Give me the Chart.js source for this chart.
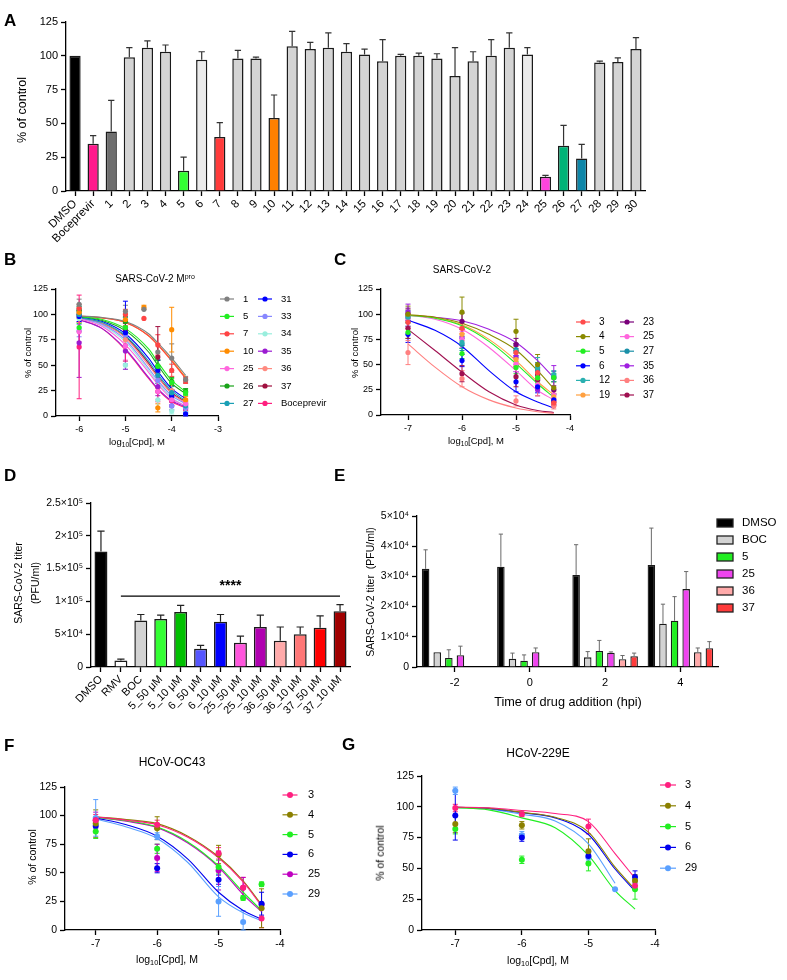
<!DOCTYPE html>
<html>
<head>
<meta charset="utf-8">
<title>Figure</title>
<script src="https://cdn.jsdelivr.net/npm/chart.js@4.4.1/dist/chart.umd.min.js"></script>
<style>
  html, body { margin: 0; padding: 0; background: #fff; }
  body { width: 787px; height: 980px; position: relative; overflow: hidden; font-family: "Liberation Sans", Arial, sans-serif; color: #000; }
  canvas { position: absolute; left: 0; top: 0; }
  .t { position: absolute; white-space: nowrap; transform: translate(-50%, -50%); line-height: 1; }
  .r { transform: translate(-50%, -50%) rotate(-90deg); }
  .p { position: absolute; font-weight: bold; font-size: 17px; line-height: 1; }
  sub { font-size: 70%; vertical-align: -0.3em; line-height: 0; }
  sup { font-size: 70%; vertical-align: 0.5em; line-height: 0; }
</style>
</head>
<body>
<canvas id="cA" width="787" height="980"></canvas>
<canvas id="cB" width="787" height="980"></canvas>
<canvas id="cC" width="787" height="980"></canvas>
<canvas id="cD" width="787" height="980"></canvas>
<canvas id="cE" width="787" height="980"></canvas>
<canvas id="cF" width="787" height="980"></canvas>
<canvas id="cG" width="787" height="980"></canvas>

<div class="p" style="left:4px;top:12px">A</div>
<div class="p" style="left:4px;top:251px">B</div>
<div class="p" style="left:334px;top:251px">C</div>
<div class="p" style="left:4px;top:467px">D</div>
<div class="p" style="left:334px;top:467px">E</div>
<div class="p" style="left:4px;top:737px">F</div>
<div class="p" style="left:342px;top:736px">G</div>

<div class="t r" style="left:22px;top:110px;font-size:12.5px">% of control</div>

<div class="t" style="left:155px;top:279px;font-size:10px">SARS-CoV-2 M<sup>pro</sup></div>
<div class="t r" style="left:28px;top:353px;font-size:9.5px">% of control</div>
<div class="t" style="left:137px;top:442px;font-size:9.5px">log<sub>10</sub>[Cpd], M</div>

<div class="t" style="left:462px;top:270px;font-size:10px">SARS-CoV-2</div>
<div class="t r" style="left:355px;top:353px;font-size:9.5px">% of control</div>
<div class="t" style="left:476px;top:441px;font-size:9.5px">log<sub>10</sub>[Cpd], M</div>

<div class="t r" style="left:27px;top:583px;font-size:10.5px;line-height:1.6;text-align:center">SARS-CoV-2 titer<br>(PFU/ml)</div>

<div class="t r" style="left:370px;top:592px;font-size:10.5px">SARS-CoV-2 titer&nbsp;&nbsp;(PFU/ml)</div>
<div class="t" style="left:568px;top:702px;font-size:12.7px">Time of drug addition (hpi)</div>

<div class="t" style="left:172px;top:762px;font-size:12px">HCoV-OC43</div>
<div class="t r" style="left:32px;top:857px;font-size:10.5px">% of control</div>
<div class="t" style="left:167px;top:959px;font-size:10.5px">log<sub>10</sub>[Cpd], M</div>

<div class="t" style="left:538px;top:753px;font-size:12px">HCoV-229E</div>
<div class="t r" style="left:380px;top:853px;font-size:10.5px">% of control</div>
<div class="t" style="left:538px;top:960px;font-size:10.5px">log<sub>10</sub>[Cpd], M</div>

<script>
const FONT = '"Liberation Sans", Arial, Helvetica, sans-serif';
Chart.defaults.font.family = FONT;
Chart.defaults.color = '#000';
Chart.defaults.animation = false;
Chart.defaults.events = [];
Chart.defaults.plugins.legend.display = false;
Chart.defaults.plugins.tooltip.enabled = false;

// ---------- A: single-dose screen (% of control)
const catsA = ['DMSO','Boceprevir','1','2','3','4','5','6','7','8','9','10','11','12','13','14','15','16','17','18','19','20','21','22','23','24','25','26','27','28','29','30'];
const valsA = [100,35,44,99,106,103,15,97,40,98,98,54,107,105,106,103,101,96,100,100,98,85,96,100,106,101,10.5,33.5,24,95,95.5,105];
const errA  = [100,41,67,106,111,108,25,103,50.5,104,99,71,118,110,117,109,105,112,101,102,101.5,106,103,112,117,106,11.5,48.5,34.5,96,98.5,113.5];

// ---------- B: SARS-CoV-2 Mpro dose-response
const namesB = ['1','5','7','10','25','26','27','31','33','34','35','36','37','Boceprevir'];
const doseB = [-6, -5, -4.6, -4.3, -4, -3.7];
const ptsB = [
  [110,103,105,63,57,36],
  [87,87,null,49,33,23],
  [106,100,96,70,45,35],
  [102,95,107,8,85,16],
  [83,69,null,24,16,12],
  [104,93,null,49,34,24],
  [100,87,null,40,23,10],
  [98,82,null,45,20,2],
  [84,80,null,35,10,8],
  [96,50,null,16,5,3],
  [72,64,null,29,10,8],
  [98,75,null,35,25,14],
  [100,85,null,58,20,12],
  [68,69,null,24,15,7]
];
const errB = [
  [5,6,0,8,14,3],[4,5,0,6,4,3],[4,5,0,10,6,3],[5,6,2,4,22,3],[10,14,0,8,5,3],
  [4,5,0,6,4,3],[8,10,0,8,6,4],[5,31,0,10,6,2],[6,6,0,8,4,3],[10,4,0,8,3,2],
  [34,18,0,9,4,3],[6,10,0,8,6,3],[4,6,0,30,6,3],[51,15,0,10,5,3]
];
const fitXB = [-6, -5.5, -5, -4.5, -4.3, -4, -3.7];
const fitB = [
  [98.5,97,93,81,72,57,40],
  [98,95,86,66,53,35,24],
  [98.5,96.5,92,79,70,54,37],
  [98.5,96.5,92,79,70,55,38],
  [96,88,70,43,31,17,10],
  [98,94,84,63,50,32,22],
  [97,92,79,54,41,25,15],
  [97.5,93,81,57,44,27,17],
  [96.5,90,75,47,35,20,12],
  [96,89,73,45,33,18,10],
  [95,86,66,38,27,15,9],
  [97,91,77,50,38,22,13],
  [97,91,78,52,39,23,14],
  [95,86,65,37,26,14,8]
];

// ---------- C: SARS-CoV-2 antiviral dose-response
const namesC = ['3','4','5','6','12','19','23','25','27','35','36','37'];
const doseC = [-7, -6, -5, -4.6, -4.3];
const ptsC = [
  [92,86,62,42,12],
  [100,102,83,50,27],
  [82,61,47,37,37],
  [80,54,33,28,15],
  [97,72,63,47,40],
  [99,80,55,37,18],
  [100,93,70,40,25],
  [96,75,51,30,20],
  [98,70,65,44,38],
  [102,77,58,25,37],
  [62,36,14,27,9],
  [86,41,38,35,13]
];
const errC = [
  [6,5,6,5,3],[8,15,12,10,6],[6,5,6,5,4],[8,6,10,6,5],[6,6,6,10,4],[6,6,6,8,5],
  [6,8,6,6,4],[8,8,8,6,5],[6,6,6,8,5],[8,8,8,6,12],[12,8,5,8,3],[10,8,10,8,3]
];
const fitXC = [-7, -6.5, -6, -5.5, -5, -4.6, -4.3];
const fitC = [
  null,
  [99.5,97,91,80,64.5,44,26],
  [99,96,88.5,73,51,31,17.5],
  [94,84,68,44,23,13,7],
  null,
  [99.5,96.5,89.5,75,54,33,20],
  null,
  [99,95,85,67,44,24.5,15],
  null,
  [99,97,93.5,85,72,54,37],
  [70.5,47.5,28,15,7,3.3,1.6],
  [85,64,42.5,23,10,4.5,2.5]
];

// ---------- D: titer reduction
const catsD = ['DMSO','RMV','BOC','5_50 μM','5_10 μM','6_50 μM','6_10 μM','25_50 μM','25_10 μM','36_50 μM','36_10 μM','37_50 μM','37_10 μM'];
const valsD = [176000,10000,71000,73000,84000,28000,69000,37000,61000,40000,50000,60000,85000];
const errD  = [207000,12000,80000,79000,94000,33000,80000,47000,79000,61000,61000,78000,95000];
const ticksD = ['0','5×10⁴','1×10⁵','1.5×10⁵','2×10⁵','2.5×10⁵'];
const sigD = { from: 'RMV', to: '37_10 μM', y: 108000, text: '****' };

// ---------- E: time of addition
const groupsE = ['-2','0','2','4'];
const seriesE = ['DMSO','BOC','5','25','36','37'];
const valsE = [
  [32500,33200,30500,33800],
  [4900,2700,3200,14300],
  [3000,2100,5300,15300],
  [3900,4900,4700,25800],
  [150,0,2600,4900],
  [150,0,3600,6200]
];
const errE = [
  [38800,44000,40500,46000],
  [4900,4600,5100,20800],
  [5700,4000,8800,23300],
  [6900,6300,5000,31600],
  [150,0,3800,6300],
  [150,0,4600,8400]
];
const ticksE = ['0','1×10⁴','2×10⁴','3×10⁴','4×10⁴','5×10⁴'];

// ---------- F: HCoV-OC43
const namesF = ['3','4','5','6','25','29'];
const doseF = [-7, -6, -5, -4.6, -4.3];
const ptsF = [
  [96,92,67,37,10],
  [93,89,66,null,19],
  [86,71,55,28,40],
  [91,54,44,null,23],
  [96,63,52,37,22],
  [98,82,25,7,null]
];
const errF = [[5,4,5,9,8],[12,10,8,0,17],[6,4,6,2,2],[5,4,4,0,10],[7,12,17,9,0],[16,3,13,10,0]];
const fitXF = [-7, -6.5, -6, -5.5, -5, -4.6, -4.3];
const fitF = [
  [99,96,92,81,63,42,21],
  [99,96.5,93,82,64,43,22],
  [98.5,95.5,90,77,56,33,17],
  [98,92,82,62,33,17,9.5],
  [98.5,95,89.5,76,55,31,16],
  [97,90,80,59,29,15,8]
];

// ---------- G: HCoV-229E
const namesG = ['3','4','5','6','29'];
const doseG = [-7, -6, -5, -4.6, -4.3];
const ptsG = [
  [99,94,84,null,36],
  [86,85,64,null,40],
  [82,57,54,null,33],
  [93,75,60,null,43],
  [113,77,59,33,null]
];
const errG = [[3,2,6,0,3],[7,3,10,0,5],[4,3,6,0,8],[20,3,2,0,5],[3,3,3,0,0]];
const fitXG = [-7, -6.5, -6, -5.5, -5, -4.6, -4.3];
const fitG = [
  [99.8,99.2,97,94.5,88,62,42],
  [99.6,98.8,95.5,91.5,79.5,51,33],
  [99.2,97.5,91,83,60.5,32,17],
  [99.6,98.7,95.2,91,77.5,49.5,31.5],
  [99.5,98.3,94,88.5,70,38,null]
];

const doseTicks = [-7, -6, -5, -4];
const doseTicksB = [-6, -5, -4, -3];

// ---------- colours
const greyA = '#d4d4d4';
const colA = catsA.map(c => ({DMSO:'#000000', Boceprevir:'#ff1a8c', '1':'#6e6e6e', '5':'#33ff33', '6':'#ebebeb',
  '7':'#ff3b3b', '10':'#ff8000', '24':'#ebebeb', '25':'#ff44dd', '26':'#00b377', '27':'#0e86a8'})[c] || greyA);
const colB = ['#808080','#22ee22','#ff4444','#ff8c00','#ff66dd','#1aa31a','#1a9fb5','#0000ff','#8888ff','#99eedd','#9b1bd1','#ff8a80','#a0103f','#ff1f7f'];
const colC = ['#ff4b4b','#8a8a00','#22ee22','#0000ff','#2ab0b0','#ffa040','#7a007a','#ff66dd','#1a90a8','#a020e0','#ff8080','#a01050'];
const colD = ['#000000','#ffffff','#d3d3d3','#33ff33','#00c000','#5555ff','#0000ff','#ff55dd','#b000b0','#ffaaaa','#ff7777','#ff0000','#a00000'];
const colE = ['#000000','#d3d3d3','#22ee22','#ee44ee','#ffaaaa','#ff3b3b'];
const colF = ['#ff1f7f','#8b8000','#22ee22','#0000ee','#c000c0','#5aa0ff'];
const colG = ['#ff1f7f','#8b8000','#22ee22','#0000ee','#5aa0ff'];

// ---------- helpers
function ax(size, ticks, rest) {
  return Object.assign({
    border: { color: '#000', width: 1.3 },
    grid: { drawOnChartArea: false, drawTicks: true, tickLength: 5, tickWidth: 1.3, color: '#000', tickColor: '#000', offset: false },
    ticks: Object.assign({ color: '#000', font: { size: size, family: FONT }, padding: 3 }, ticks)
  }, rest);
}

// page-space chart area: left, top, right, bottom plus axis box sizes
function pad(L, T, R, B, yW, xH) {
  return { left: L - yW, top: T, right: 787 - R, bottom: 980 - B - xH };
}

function drawErr(chart, bars) {
  const ctx = chart.ctx, ys = chart.scales.y;
  chart.data.datasets.forEach((ds, di) => {
    const meta = chart.getDatasetMeta(di);
    if (bars && ds.errHi) {
      meta.data.forEach((el, i) => {
        const hi = ds.errHi[i], v = ds.data[i];
        if (hi == null || v == null || hi <= v) return;
        const yTop = ys.getPixelForValue(hi);
        const cw = el.width * 0.28;
        ctx.save();
        ctx.strokeStyle = ds.errColor || '#222';
        ctx.lineWidth = ds.errWidth || 1.2;
        ctx.beginPath();
        ctx.moveTo(el.x, el.y); ctx.lineTo(el.x, yTop);
        ctx.moveTo(el.x - cw, yTop); ctx.lineTo(el.x + cw, yTop);
        ctx.stroke();
        ctx.restore();
      });
    }
    if (!bars && ds.err) {
      meta.data.forEach((el, i) => {
        const e = ds.err[i];
        if (!e) return;
        const d = ds.data[i];
        const y1 = ys.getPixelForValue(d.y + e), y2 = ys.getPixelForValue(Math.max(d.y - e, 0));
        ctx.save();
        ctx.strokeStyle = ds.borderColor;
        ctx.lineWidth = 1;
        ctx.beginPath();
        ctx.moveTo(el.x, y1); ctx.lineTo(el.x, y2);
        ctx.moveTo(el.x - 2.5, y1); ctx.lineTo(el.x + 2.5, y1);
        ctx.moveTo(el.x - 2.5, y2); ctx.lineTo(el.x + 2.5, y2);
        ctx.stroke();
        ctx.restore();
      });
    }
  });
}

const errPlugin = {
  id: 'errs',
  beforeDatasetsDraw(chart) { drawErr(chart, false); },
  afterDatasetsDraw(chart) { drawErr(chart, true); }
};

function keyPlugin(k) {
  return {
    id: 'keys',
    afterDraw(chart) {
      const ctx = chart.ctx;
      ctx.save();
      ctx.font = k.size + 'px ' + FONT;
      ctx.textBaseline = 'middle';
      ctx.textAlign = 'left';
      k.names.forEach((n, i) => {
        const col = Math.floor(i / k.rows), row = i % k.rows;
        const x = k.x + col * k.colDx, y = k.y + row * k.dy;
        const c = k.colors[i];
        if (k.box) {
          ctx.fillStyle = c;
          ctx.fillRect(x - 8, y - 4, 16, 8);
          ctx.strokeStyle = '#222';
          ctx.lineWidth = 1.3;
          ctx.strokeRect(x - 8, y - 4, 16, 8);
        } else {
          ctx.strokeStyle = c;
          ctx.lineWidth = 1.2;
          ctx.beginPath();
          ctx.moveTo(x - k.half, y); ctx.lineTo(x + k.half, y);
          ctx.stroke();
          ctx.fillStyle = c;
          ctx.beginPath();
          ctx.arc(x, y, k.r, 0, Math.PI * 2);
          ctx.fill();
        }
        ctx.fillStyle = '#000';
        ctx.fillText(n, x + k.tdx, y);
      });
      ctx.restore();
    }
  };
}

function doseChart(id, o) {
  const datasets = [];
  o.names.forEach((n, i) => {
    const pts = [], err = [];
    o.dose.forEach((x, k) => {
      const v = o.pts[i][k];
      if (v != null) { pts.push({ x: x, y: v }); err.push(o.err[i][k]); }
    });
    datasets.push({ type: 'scatter', label: n, data: pts, err: err, order: 1,
      backgroundColor: o.colors[i], borderColor: o.colors[i], pointRadius: o.r, pointBorderWidth: 0, showLine: false });
  });
  o.names.forEach((n, i) => {
    if (!o.fit[i]) return;
    const line = [];
    o.fitX.forEach((x, k) => { if (o.fit[i][k] != null) line.push({ x: x, y: o.fit[i][k] }); });
    datasets.push({ type: 'line', label: n + ' fit', data: line, order: 2, borderColor: o.colors[i], borderWidth: 1.1,
      pointRadius: 0, fill: false, cubicInterpolationMode: 'monotone' });
  });
  return new Chart(document.getElementById(id), {
    type: 'scatter',
    data: { datasets: datasets },
    options: {
      responsive: false,
      layout: { padding: o.pad },
      scales: {
        x: ax(o.tick, {}, { type: 'linear', min: o.xmin, max: o.xmax,
          afterBuildTicks: s => { s.ticks = o.xticks.map(v => ({ value: v })); },
          afterFit: s => { s.height = o.xH; } }),
        y: ax(o.tick, { stepSize: 25 }, { min: 0, max: 125,
          afterFit: s => { s.width = o.yW; } })
      }
    },
    plugins: [errPlugin, keyPlugin(o.key)]
  });
}

// ---------- A
new Chart(document.getElementById('cA'), {
  type: 'bar',
  data: { labels: catsA, datasets: [{ data: valsA, errHi: errA, errColor: '#333', backgroundColor: colA,
    borderColor: '#1a1a1a', borderWidth: 1.5, categoryPercentage: 1, barPercentage: 0.62 }] },
  options: {
    responsive: false,
    layout: { padding: pad(66, 22, 645, 191, 40, 60) },
    scales: {
      x: ax(11.5, { autoSkip: false, maxRotation: 45, minRotation: 45, padding: 1 }, { afterFit: s => { s.height = 60; } }),
      y: ax(11, { stepSize: 25 }, { min: 0, max: 125, afterFit: s => { s.width = 40; } })
    }
  },
  plugins: [errPlugin]
});

// ---------- B
doseChart('cB', {
  names: namesB, colors: colB, dose: doseB, pts: ptsB, err: errB, fitX: fitXB, fit: fitB,
  xmin: -6.5, xmax: -3, xticks: doseTicksB, tick: 9, r: 2.6,
  pad: pad(56, 289, 218, 416, 30, 20), yW: 30, xH: 20,
  key: { names: namesB, colors: colB, rows: 7, x: 227, y: 299, dy: 17.4, colDx: 38, half: 7, r: 2.6, tdx: 16, size: 9.5 }
});

// ---------- C
doseChart('cC', {
  names: namesC, colors: colC, dose: doseC, pts: ptsC, err: errC, fitX: fitXC, fit: fitC,
  xmin: -7.5, xmax: -4, xticks: doseTicks, tick: 9, r: 2.6,
  pad: pad(381, 289, 570, 415, 30, 20), yW: 30, xH: 20,
  key: { names: namesC, colors: colC, rows: 6, x: 583, y: 322, dy: 14.6, colDx: 44, half: 7, r: 2.6, tdx: 16, size: 10 }
});

// ---------- D
const sigPlugin = {
  id: 'sig',
  afterDraw(chart) {
    const xs = chart.scales.x, ys = chart.scales.y, ctx = chart.ctx;
    const x1 = xs.getPixelForValue(catsD.indexOf(sigD.from));
    const x2 = xs.getPixelForValue(catsD.indexOf(sigD.to));
    const y = ys.getPixelForValue(sigD.y);
    ctx.save();
    ctx.strokeStyle = '#000';
    ctx.lineWidth = 1.4;
    ctx.beginPath(); ctx.moveTo(x1, y); ctx.lineTo(x2, y); ctx.stroke();
    ctx.font = 'bold 14px ' + FONT;
    ctx.textAlign = 'center';
    ctx.textBaseline = 'bottom';
    ctx.fillStyle = '#000';
    ctx.fillText(sigD.text, (x1 + x2) / 2, y - 3);
    ctx.restore();
  }
};
new Chart(document.getElementById('cD'), {
  type: 'bar',
  data: { labels: catsD, datasets: [{ data: valsD, errHi: errD, errColor: '#222', backgroundColor: colD,
    borderColor: '#1a1a1a', borderWidth: 1.5, categoryPercentage: 1, barPercentage: 0.65 }] },
  options: {
    responsive: false,
    layout: { padding: pad(91, 503, 350, 667, 60, 70) },
    scales: {
      x: ax(11, { autoSkip: false, maxRotation: 45, minRotation: 45, padding: 1 }, { afterFit: s => { s.height = 70; } }),
      y: ax(10.5, { stepSize: 50000, callback: v => ticksD[Math.round(v / 50000)] },
        { min: 0, max: 250000, afterFit: s => { s.width = 60; } })
    }
  },
  plugins: [errPlugin, sigPlugin]
});

// ---------- E
new Chart(document.getElementById('cE'), {
  type: 'bar',
  data: { labels: groupsE, datasets: seriesE.map((n, i) => ({ label: n, data: valsE[i], errHi: errE[i],
    errColor: '#6a6a6a', errWidth: 1, backgroundColor: colE[i], borderColor: '#1a1a1a', borderWidth: 1.3,
    categoryPercentage: 0.925, barPercentage: 0.65 })) },
  options: {
    responsive: false,
    layout: { padding: pad(417, 516, 718, 667, 45, 25) },
    scales: {
      x: ax(11, { padding: 4 }, { afterFit: s => { s.height = 25; } }),
      y: ax(10.5, { stepSize: 10000, callback: v => ticksE[Math.round(v / 10000)] },
        { min: 0, max: 50000, afterFit: s => { s.width = 45; } })
    }
  },
  plugins: [errPlugin, keyPlugin({ names: seriesE, colors: colE, box: true, rows: 6, x: 725, y: 523, dy: 17, colDx: 0, tdx: 17, size: 11.5 })]
});

// ---------- F
doseChart('cF', {
  names: namesF, colors: colF, dose: doseF, pts: ptsF, err: errF, fitX: fitXF, fit: fitF,
  xmin: -7.5, xmax: -4, xticks: doseTicks, tick: 10.5, r: 3,
  pad: pad(65, 787, 280, 930, 35, 22), yW: 35, xH: 22,
  key: { names: namesF, colors: colF, rows: 6, x: 290, y: 795, dy: 19.8, colDx: 0, half: 7.5, r: 3, tdx: 18, size: 11 }
});

// ---------- G
doseChart('cG', {
  names: namesG, colors: colG, dose: doseG, pts: ptsG, err: errG, fitX: fitXG, fit: fitG,
  xmin: -7.5, xmax: -4, xticks: doseTicks, tick: 10.5, r: 3,
  pad: pad(422, 776, 655, 930, 35, 22), yW: 35, xH: 22,
  key: { names: namesG, colors: colG, rows: 5, x: 668, y: 785, dy: 20.8, colDx: 0, half: 8, r: 3, tdx: 17, size: 11 }
});
</script>
</body>
</html>
